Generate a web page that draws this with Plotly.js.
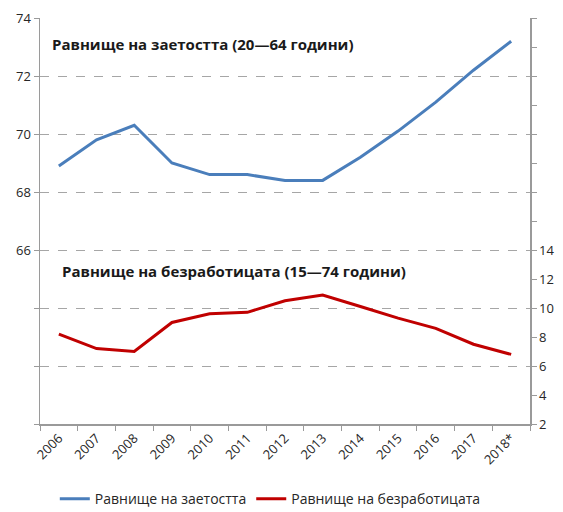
<!DOCTYPE html>
<html>
<head>
<meta charset="utf-8">
<script src="https://cdn.plot.ly/plotly-3.0.1.min.js"></script>
<style>html,body{margin:0;padding:0;background:#fff;}#chart{width:563px;height:512px;}</style>
</head>
<body>
<div id="chart"></div>
<script>
const years = ["2006","2007","2008","2009","2010","2011","2012","2013","2014","2015","2016","2017","2018*"];
const employment = [68.9, 69.8, 70.3, 69.0, 68.6, 68.6, 68.4, 68.4, 69.2, 70.1, 71.1, 72.2, 73.2];
const unemployment = [8.2, 7.2, 7.0, 9.0, 9.6, 9.7, 10.5, 10.9, 10.1, 9.3, 8.6, 7.5, 6.8];
const employmentName = "Равнище на заетостта";
const unemploymentName = "Равнище на безработицата";
const employmentNote = "Равнище на заетостта (20—64 години)";
const unemploymentNote = "Равнище на безработицата (15—74 години)";
const leftTicks = [60, 62, 64, 66, 68, 70, 72, 74];
const rightTicks = [2, 4, 6, 8, 10, 12, 14, 16, 18, 20, 22, 24, 26, 28, 30];

const font = "Open Sans, Liberation Sans, sans-serif";
const axisColor = "#9a9a9a";
const textColor = "#262626";

const traces = [
  {x: years, y: employment, name: employmentName, type: "scatter", mode: "lines",
   line: {color: "#4a7ebb", width: 3}, yaxis: "y"},
  {x: years, y: unemployment, name: unemploymentName, type: "scatter", mode: "lines",
   line: {color: "#c00000", width: 3}, yaxis: "y2"}
];

const layout = {
  width: 563, height: 512,
  margin: {l: 40, r: 33, t: 18, b: 88, autoexpand: false},
  paper_bgcolor: "#fff", plot_bgcolor: "#fff",
  font: {family: font, size: 13, color: textColor},
  showlegend: true,
  legend: {orientation: "h", x: 0.47, xanchor: "center", yref: "container", y: 0.025, yanchor: "middle",
           font: {size: 14, color: textColor}, itemwidth: 30},
  xaxis: {type: "category", range: [-0.5, 12.5], automargin: false,
          showline: true, linecolor: axisColor, linewidth: 1.5,
          ticks: "outside", ticklen: 5, tickcolor: axisColor, tickson: "boundaries",
          tickangle: -45, showgrid: false, zeroline: false, fixedrange: true,
          tickfont: {size: 13, color: textColor}},
  yaxis: {range: [60, 74], tickvals: leftTicks, automargin: false,
          ticktext: leftTicks.map(v => v >= 66 ? String(v) : ""),
          showline: true, linecolor: axisColor, linewidth: 1.5,
          ticks: "outside", ticklen: 5, tickcolor: axisColor,
          showgrid: true, gridcolor: "#a6a6a6", griddash: "dash", gridwidth: 1,
          zeroline: false, tickfont: {size: 13, color: textColor}},
  yaxis2: {range: [2, 30], overlaying: "y", side: "right", tickvals: rightTicks, automargin: false,
           ticktext: rightTicks.map(v => v <= 14 ? String(v) : ""),
           showline: true, linecolor: axisColor, linewidth: 1.5,
           ticks: "outside", ticklen: 5, tickcolor: axisColor,
           showgrid: false, zeroline: false, tickfont: {size: 13, color: textColor}},
  annotations: [
    {text: "<b>" + employmentNote + "</b>", xref: "paper", yref: "paper", x: 0.02, y: 0.935,
     xanchor: "left", yanchor: "middle", showarrow: false, font: {size: 15, color: "#1a1a1a"}},
    {text: "<b>" + unemploymentNote + "</b>", xref: "paper", yref: "paper", x: 0.04, y: 0.378,
     xanchor: "left", yanchor: "middle", showarrow: false, font: {size: 15, color: "#1a1a1a"}}
  ]
};

Plotly.newPlot("chart", traces, layout, {displayModeBar: false, staticPlot: true});
</script>
</body>
</html>
